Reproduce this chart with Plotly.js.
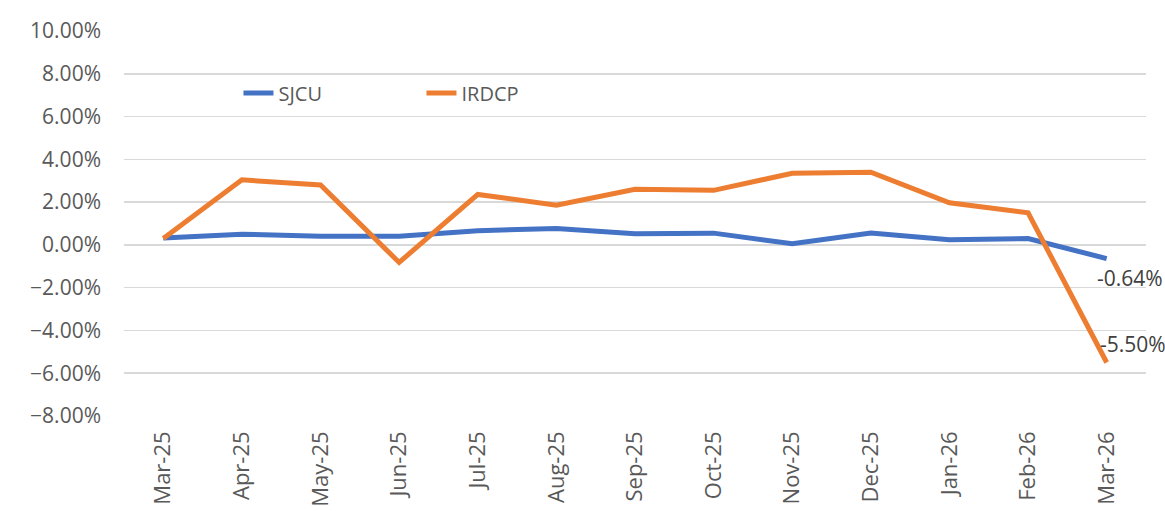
<!DOCTYPE html>
<html>
<head>
<meta charset="utf-8">
<script src="https://cdn.plot.ly/plotly-3.0.1.min.js"></script>
<style>
  html, body { margin: 0; padding: 0; background: #ffffff; }
  #chart { width: 1165px; height: 511px; }
</style>
</head>
<body>
<div id="chart"></div>
<script>
var months = ['Mar-25', 'Apr-25', 'May-25', 'Jun-25', 'Jul-25', 'Aug-25', 'Sep-25',
  'Oct-25', 'Nov-25', 'Dec-25', 'Jan-26', 'Feb-26', 'Mar-26'];

// monthly change, in percent
var sjcu = [0.32, 0.5, 0.4, 0.4, 0.66, 0.77, 0.52, 0.55, 0.05, 0.55, 0.24, 0.3, -0.64];
var irdcp = [0.3, 3.04, 2.8, -0.82, 2.36, 1.86, 2.6, 2.55, 3.35, 3.4, 1.97, 1.5, -5.5];

var seriesNames = ['SJCU', 'IRDCP'];
var endLabels = ['-0.64%', '-5.50%'];

var textColor = '#595959';
var gridColor = '#d9d9d9';

var sjcuTrace = {
  name: seriesNames[0],
  x: months,
  y: sjcu,
  type: 'scatter',
  mode: 'lines',
  line: { color: '#4472C4', width: 5 },
};

var irdcpTrace = {
  name: seriesNames[1],
  x: months,
  y: irdcp,
  type: 'scatter',
  mode: 'lines',
  line: { color: '#ED7D31', width: 5 },
};

var last = months[months.length - 1];

var layout = {
  width: 1165,
  height: 511,
  margin: { l: 124, r: 19, t: 31, b: 95 },
  paper_bgcolor: '#ffffff',
  plot_bgcolor: '#ffffff',
  font: { family: 'Open Sans, sans-serif', size: 21, color: textColor },
  showlegend: true,
  legend: {
    orientation: 'h',
    x: 0.112,
    xanchor: 'left',
    y: 0.839,
    yanchor: 'middle',
    bgcolor: 'rgba(0,0,0,0)',
    entrywidth: 138,
    entrywidthmode: 'pixels',
    font: { size: 20, color: textColor },
  },
  xaxis: {
    type: 'category',
    range: [-0.5, months.length - 0.5],
    tickangle: -90,
    showgrid: false,
    zeroline: false,
    showline: false,
    ticks: '',
    automargin: false,
    ticklabelstandoff: 10,
    tickfont: { size: 22, color: textColor },
  },
  yaxis: {
    range: [-8, 10],
    dtick: 2,
    tick0: 0,
    tickformat: '.2f',
    ticksuffix: '%',
    showgrid: true,
    gridcolor: gridColor,
    gridwidth: 1.5,
    zeroline: false,
    showline: false,
    ticks: '',
    automargin: false,
    ticklabelstandoff: 22,
    tickfont: { size: 21, color: textColor },
  },
  annotations: [
    {
      x: last, y: sjcu[sjcu.length - 1], xref: 'x', yref: 'y',
      text: endLabels[0], showarrow: false,
      xanchor: 'left', yanchor: 'middle', xshift: -12, yshift: -19,
      font: { size: 21, color: '#404040' },
    },
    {
      x: last, y: irdcp[irdcp.length - 1], xref: 'x', yref: 'y',
      text: endLabels[1], showarrow: false,
      xanchor: 'left', yanchor: 'middle', xshift: -9, yshift: 19,
      font: { size: 21, color: '#404040' },
    },
  ],
};

Plotly.newPlot('chart', [sjcuTrace, irdcpTrace], layout, { displayModeBar: false, staticPlot: true });
</script>
</body>
</html>
